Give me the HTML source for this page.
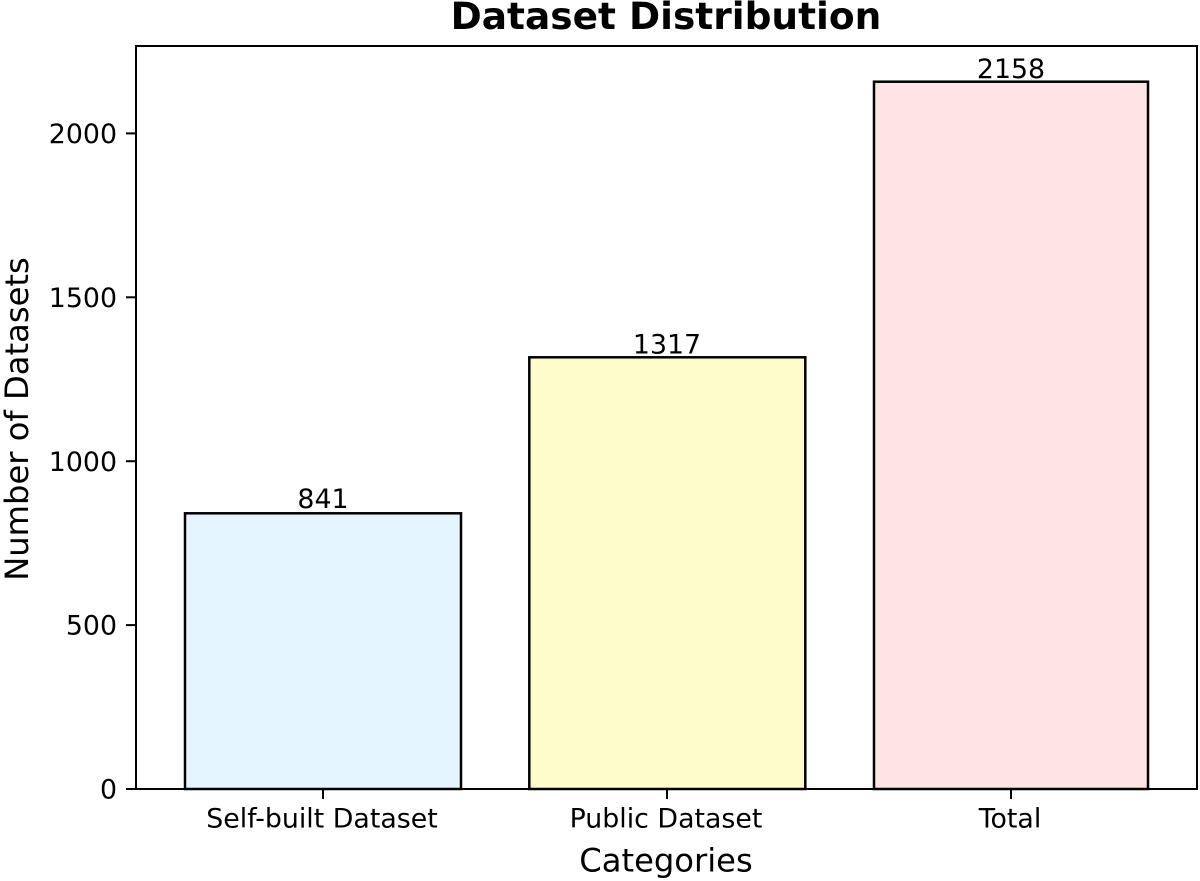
<!DOCTYPE html>
<html>
<head>
<meta charset="utf-8">
<style>
  html, body { margin: 0; padding: 0; background: #ffffff; }
  svg { display: block; }
  text { font-family: "DejaVu Sans", "Liberation Sans", sans-serif; fill: #000; }
</style>
</head>
<body>
<svg width="1200" height="881" viewBox="0 0 1200 881" xmlns="http://www.w3.org/2000/svg">
  <rect x="0" y="0" width="1200" height="881" fill="#ffffff"/>

  <!-- Title -->
  <text x="666" y="29" font-size="37.5" font-weight="bold" text-anchor="middle">Dataset Distribution</text>

  <!-- Bars -->
  <rect x="185" y="513.3" width="276" height="275.7" fill="#e4f5fd" stroke="#000" stroke-width="2.5"/>
  <rect x="529.3" y="357.3" width="276" height="431.7" fill="#fefccb" stroke="#000" stroke-width="2.5"/>
  <rect x="874" y="81.7" width="274" height="707.3" fill="#fee4e4" stroke="#000" stroke-width="2.5"/>

  <!-- Value labels -->
  <text x="323" y="508" font-size="26.8" text-anchor="middle">841</text>
  <text x="667" y="353.5" font-size="26.8" text-anchor="middle">1317</text>
  <text x="1011" y="78" font-size="26.8" text-anchor="middle">2158</text>

  <!-- Axes frame -->
  <rect x="136" y="46" width="1061" height="743" fill="none" stroke="#000" stroke-width="2"/>

  <!-- Y ticks -->
  <g stroke="#000" stroke-width="2">
    <line x1="126" y1="789" x2="136" y2="789"/>
    <line x1="126" y1="625.1" x2="136" y2="625.1"/>
    <line x1="126" y1="461.2" x2="136" y2="461.2"/>
    <line x1="126" y1="297.3" x2="136" y2="297.3"/>
    <line x1="126" y1="133.4" x2="136" y2="133.4"/>
  </g>
  <g font-size="26.8" text-anchor="end">
    <text x="117" y="798.6">0</text>
    <text x="117" y="634.7">500</text>
    <text x="117" y="470.8">1000</text>
    <text x="117" y="306.9">1500</text>
    <text x="117" y="143">2000</text>
  </g>

  <!-- X ticks -->
  <g stroke="#000" stroke-width="2">
    <line x1="323" y1="789" x2="323" y2="799"/>
    <line x1="667" y1="789" x2="667" y2="799"/>
    <line x1="1011" y1="789" x2="1011" y2="799"/>
  </g>
  <g font-size="26.8" text-anchor="middle">
    <text x="322" y="827.5">Self-built Dataset</text>
    <text x="666" y="827.5">Public Dataset</text>
    <text x="1010" y="827.5">Total</text>
  </g>

  <!-- Axis labels -->
  <text x="666" y="871.5" font-size="32.2" text-anchor="middle">Categories</text>
  <text transform="translate(28,419) rotate(-90)" font-size="32.2" text-anchor="middle">Number of Datasets</text>
</svg>
</body>
</html>
